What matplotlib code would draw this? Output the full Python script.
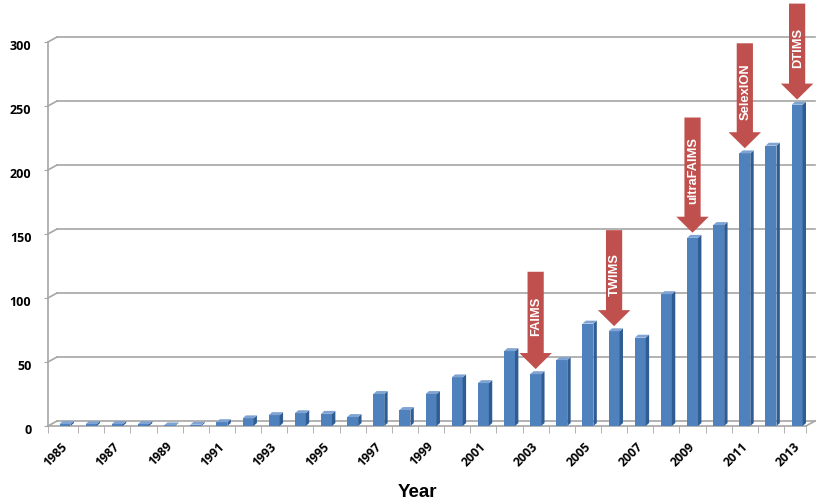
import matplotlib
matplotlib.use("Agg")
import matplotlib.pyplot as plt
import matplotlib.patches as patches
import matplotlib.transforms as mtransforms

# data (papers per year)
years = list(range(1985, 2014))
counts = [1.5, 1.5, 1.5, 1.5, 0.5, 1, 3, 6, 8.5, 10, 9.5, 7, 25, 12.5, 25,
          38, 33.5, 58.5, 40.5, 51.5, 80, 74, 69, 103, 147, 157, 213, 219, 251]
tick_years = list(range(1985, 2014, 2))

# instrument launches marked with arrows: label, year, arrow length (units)
events = ["FAIMS", "TWIMS", "ultraFAIMS", "SelexION", "DTIMS"]
event_years = [2003, 2006, 2009, 2011, 2013]
event_len = [76, 75, 90, 82, 75]

front_c = "#4F81BD"
side_c = "#2F5D93"
top_c = "#7FA3D3"
arrow_c = "#C0504D"
grid_c = "#A6A6A6"

fig = plt.figure(figsize=(8.3, 5.03), dpi=100)
ax = fig.add_axes([48/830, 77/503, 758/830, 384/503])
ax.set_xlim(1984.35, 2013.34)
ax.set_ylim(0, 300)

# back wall grid lines, shifted up/right a bit like the excel 3d wall
off = mtransforms.ScaledTranslation(0.09, 0.05, fig.dpi_scale_trans)
yticks = list(range(0, 301, 50))
for t in yticks:
    ax.plot([1984.35, 2013.34], [t, t], color=grid_c, lw=1.2,
            transform=ax.transData + off, clip_on=False, zorder=1)
    ax.plot([1984.35, 1984.35 + 0.345], [t, t + 3.9], color=grid_c, lw=1.2,
            clip_on=False, zorder=1)
# floor right edge
ax.plot([2013.34, 2013.34 + 0.345], [0, 3.9], color=grid_c, lw=1.2,
        clip_on=False, zorder=1)

# pseudo 3d columns
w = 0.42
d = 0.13
dy = 2.3
ax.bar(years, counts, width=w, color=front_c, zorder=3)
for x, v in zip(years, counts):
    r = x + w / 2
    l = x - w / 2
    side = patches.Polygon([(r, 0), (r + d, dy), (r + d, v + dy), (r, v)],
                           closed=True, facecolor=side_c, edgecolor="none", zorder=3)
    top = patches.Polygon([(l, v), (r, v), (r + d, v + dy), (l + d, v + dy)],
                          closed=True, facecolor=top_c, edgecolor="none", zorder=3)
    ax.add_patch(side)
    ax.add_patch(top)

# arrows
shaft = 0.31
head = 0.62
head_len = 12.5
gap = 4
for name, yr, ln in zip(events, event_years, event_len):
    v = counts[years.index(yr)]
    tip = v + gap
    topy = tip + ln
    hb = tip + head_len
    pts = [(yr - shaft, topy), (yr + shaft, topy), (yr + shaft, hb),
           (yr + head, hb), (yr, tip), (yr - head, hb), (yr - shaft, hb)]
    ax.add_patch(patches.Polygon(pts, closed=True, facecolor=arrow_c,
                                 edgecolor="none", zorder=5, clip_on=False))
    ax.text(yr + 0.02, (topy + hb) / 2 - 3, name, rotation=90, color="white",
            fontsize=9.3, fontweight="bold", family="Liberation Sans",
            ha="center", va="center", zorder=6, clip_on=False)

# axes styling
for s in ["top", "right"]:
    ax.spines[s].set_visible(False)
ax.spines["left"].set_color(grid_c)
ax.spines["bottom"].set_color(grid_c)
ax.spines["left"].set_linewidth(1.2)
ax.spines["bottom"].set_linewidth(1.2)

ax.set_yticks(yticks)
ax.set_yticklabels([str(t) for t in yticks], fontsize=9, fontweight="bold",
                   family="Open Sans")
ax.tick_params(axis="y", length=3, color=grid_c, pad=9)
lab_off = mtransforms.ScaledTranslation(0, -0.03, fig.dpi_scale_trans)
for lb in ax.get_yticklabels():
    lb.set_transform(lb.get_transform() + lab_off)

ax.set_xticks(tick_years)
ax.set_xticklabels([str(t) for t in tick_years], rotation=45, ha="right",
                   rotation_mode="anchor", fontsize=8.8, fontweight="bold",
                   family="Open Sans")
ax.tick_params(axis="x", length=0, pad=10)
xl_off = mtransforms.ScaledTranslation(-0.04, 0, fig.dpi_scale_trans)
for lb in ax.get_xticklabels():
    lb.set_transform(lb.get_transform() + xl_off)
ax.set_xticks([y + 0.5 for y in years[:-1]] + [1984.35, 2013.34], minor=True)
ax.tick_params(axis="x", which="minor", length=5, color=grid_c)

ax.set_xlabel("Year", fontsize=13.5, fontweight="bold", family="Liberation Sans")
ax.xaxis.set_label_coords(0.488, -0.172)
ax.xaxis.label.set_va("center")

fig.savefig("out.png", dpi=100)
